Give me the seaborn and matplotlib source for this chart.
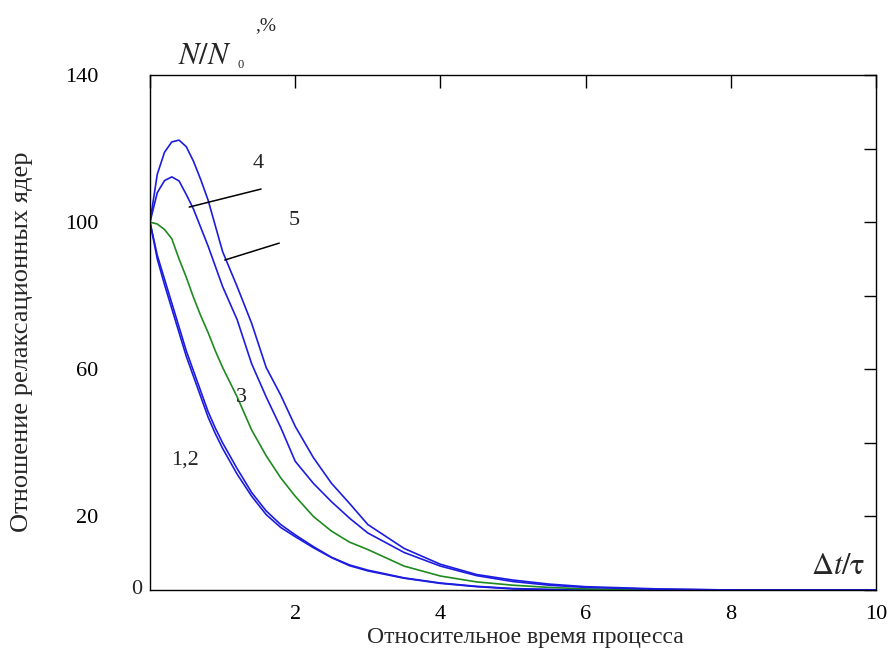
import pandas as pd
import matplotlib
matplotlib.use('Agg')
import matplotlib.pyplot as plt
import matplotlib.transforms as mtransforms
import seaborn as sns

# relative time grid (dt/tau)
t = [0, 0.1, 0.2, 0.3, 0.4, 0.5, 0.6, 0.7, 0.8, 0.9, 1.0, 1.2, 1.4, 1.6, 1.8, 2.0,
     2.25, 2.5, 2.75, 3.0, 3.5, 4.0, 4.5, 5.0, 5.5, 6.0, 7.0, 8.0, 10.0]

# N/N0, %
curve_1 = [100, 90, 83, 76.5, 70, 63.5, 58, 52.5, 47, 42.5, 38.5, 31.5, 25.5, 20.5, 17, 14.5,
           11.5, 8.8, 6.6, 5.2, 3.2, 1.8, 0.9, 0.3, 0.1, 0, 0, 0, 0]
curve_2 = [100, 91, 84.5, 78, 71.5, 65, 59.5, 54, 48.5, 44, 40, 33, 26.5, 21.5, 17.8, 15,
           11.8, 8.9, 6.8, 5.4, 3.3, 1.9, 1.0, 0.4, 0.15, 0, 0, 0, 0]
curve_3 = [100, 99.5, 98, 95.5, 90, 85, 79.5, 74.5, 70, 65, 60.5, 52.5, 43.5, 36.5, 30.5, 25.5,
           20, 16, 13, 11, 6.5, 3.8, 2.2, 1.3, 0.7, 0.3, 0, 0, 0]
curve_4 = [100, 108, 111.3, 112.3, 111.2, 107.5, 103.5, 98.5, 93.5, 88, 82.5, 73.5, 61.5, 52.5, 44.2, 35,
           29, 24, 19.5, 15.5, 10.2, 6.5, 3.9, 2.3, 1.3, 0.7, 0.2, 0, 0]
curve_5 = [100, 113, 119, 121.8, 122.3, 120.5, 116.5, 111.5, 106, 99, 92, 82.5, 72.5, 60.5, 53, 44.5,
           36, 29, 23.5, 17.8, 11.3, 7, 4.2, 2.7, 1.6, 0.9, 0.3, 0, 0]

curve_names = ['1', '2', '3', '4', '5']
curve_colors = ['#1c1ce0', '#1c1ce0', '#1f8a1f', '#1c1ce0', '#1c1ce0']

x_ticks = [0, 2, 4, 6, 8, 10]
x_tick_labels = ['', '2', '4', '6', '8', '10']
y_ticks = [0, 20, 40, 60, 80, 100, 120, 140]
y_tick_labels = ['', '20', '', '60', '', '100', '', '140']

sns.set_theme(style='white')
plt.rcParams['font.family'] = ['Liberation Serif', 'DejaVu Serif']
plt.rcParams['mathtext.fontset'] = 'stix'

frames = []
for name, vals in zip(curve_names, [curve_1, curve_2, curve_3, curve_4, curve_5]):
    frames.append(pd.DataFrame({'t': t, 'v': vals, 'curve': name}))
df = pd.concat(frames, ignore_index=True)

fig = plt.figure(figsize=(8.9, 6.55), dpi=100)
ax = fig.add_axes([150 / 890, 65 / 655, 726 / 890, 515 / 655])

sns.lineplot(data=df, x='t', y='v', hue='curve', palette=dict(zip(curve_names, curve_colors)),
             estimator=None, sort=False, legend=False, linewidth=1.2, ax=ax)

ax.set_xlim(0, 10)
ax.set_ylim(0, 140)
ax.set_xticks(x_ticks)
ax.set_xticklabels(x_tick_labels)
ax.set_yticks(y_ticks)
ax.set_yticklabels(y_tick_labels)
ax.set_xlabel('')
ax.set_ylabel('')
ax.tick_params(axis='both', direction='in', length=9, width=1, color='black',
               top=True, right=True, labelsize=16, labelcolor='black')
ax.tick_params(axis='x', pad=11)
ax.tick_params(axis='y', pad=37)
for s in ax.spines.values():
    s.set_color('black')
    s.set_linewidth(1.0)

# zero label sits closer to the axis
trans = mtransforms.blended_transform_factory(ax.transAxes, ax.transData)
ax.text(-0.011, 0, '0', transform=trans, ha='right', va='center', fontsize=16)

# curve labels and leaders
ax.text(1.49, 116, '4', fontsize=16, ha='center', va='center')
ax.plot([0.54, 1.53], [104.1, 109.0], color='black', lw=1.1)
ax.text(1.99, 100.5, '5', fontsize=16, ha='center', va='center')
ax.plot([1.03, 1.78], [89.7, 94.3], color='black', lw=1.1)
ax.text(1.26, 52.2, '3', fontsize=16, ha='center', va='center')
ax.text(0.48, 35.3, '1,2', fontsize=16, ha='center', va='center')

ax.text(0.986, 0.045, r'$\Delta t/\mathrm{\tau}$', transform=ax.transAxes,
        fontsize=22, ha='right', va='center')

fig.text(178 / 890, 1 - 56 / 655, r'$N/N$', fontsize=22, ha='left', va='center')
fig.text(237 / 890, 1 - 65 / 655, '0', fontsize=9, ha='left', va='center')
fig.text(255 / 890, 1 - 26 / 655, ',%', fontsize=14, ha='left', va='center')

fig.text(22 / 890, 1 - 342 / 655, 'Отношение релаксационных ядер', rotation=90,
         fontsize=19, ha='center', va='center')
fig.text(525 / 890, 1 - 638 / 655, 'Относительное время процесса',
         fontsize=17, ha='center', va='center')

fig.savefig('out.png', dpi=100, facecolor='white')
